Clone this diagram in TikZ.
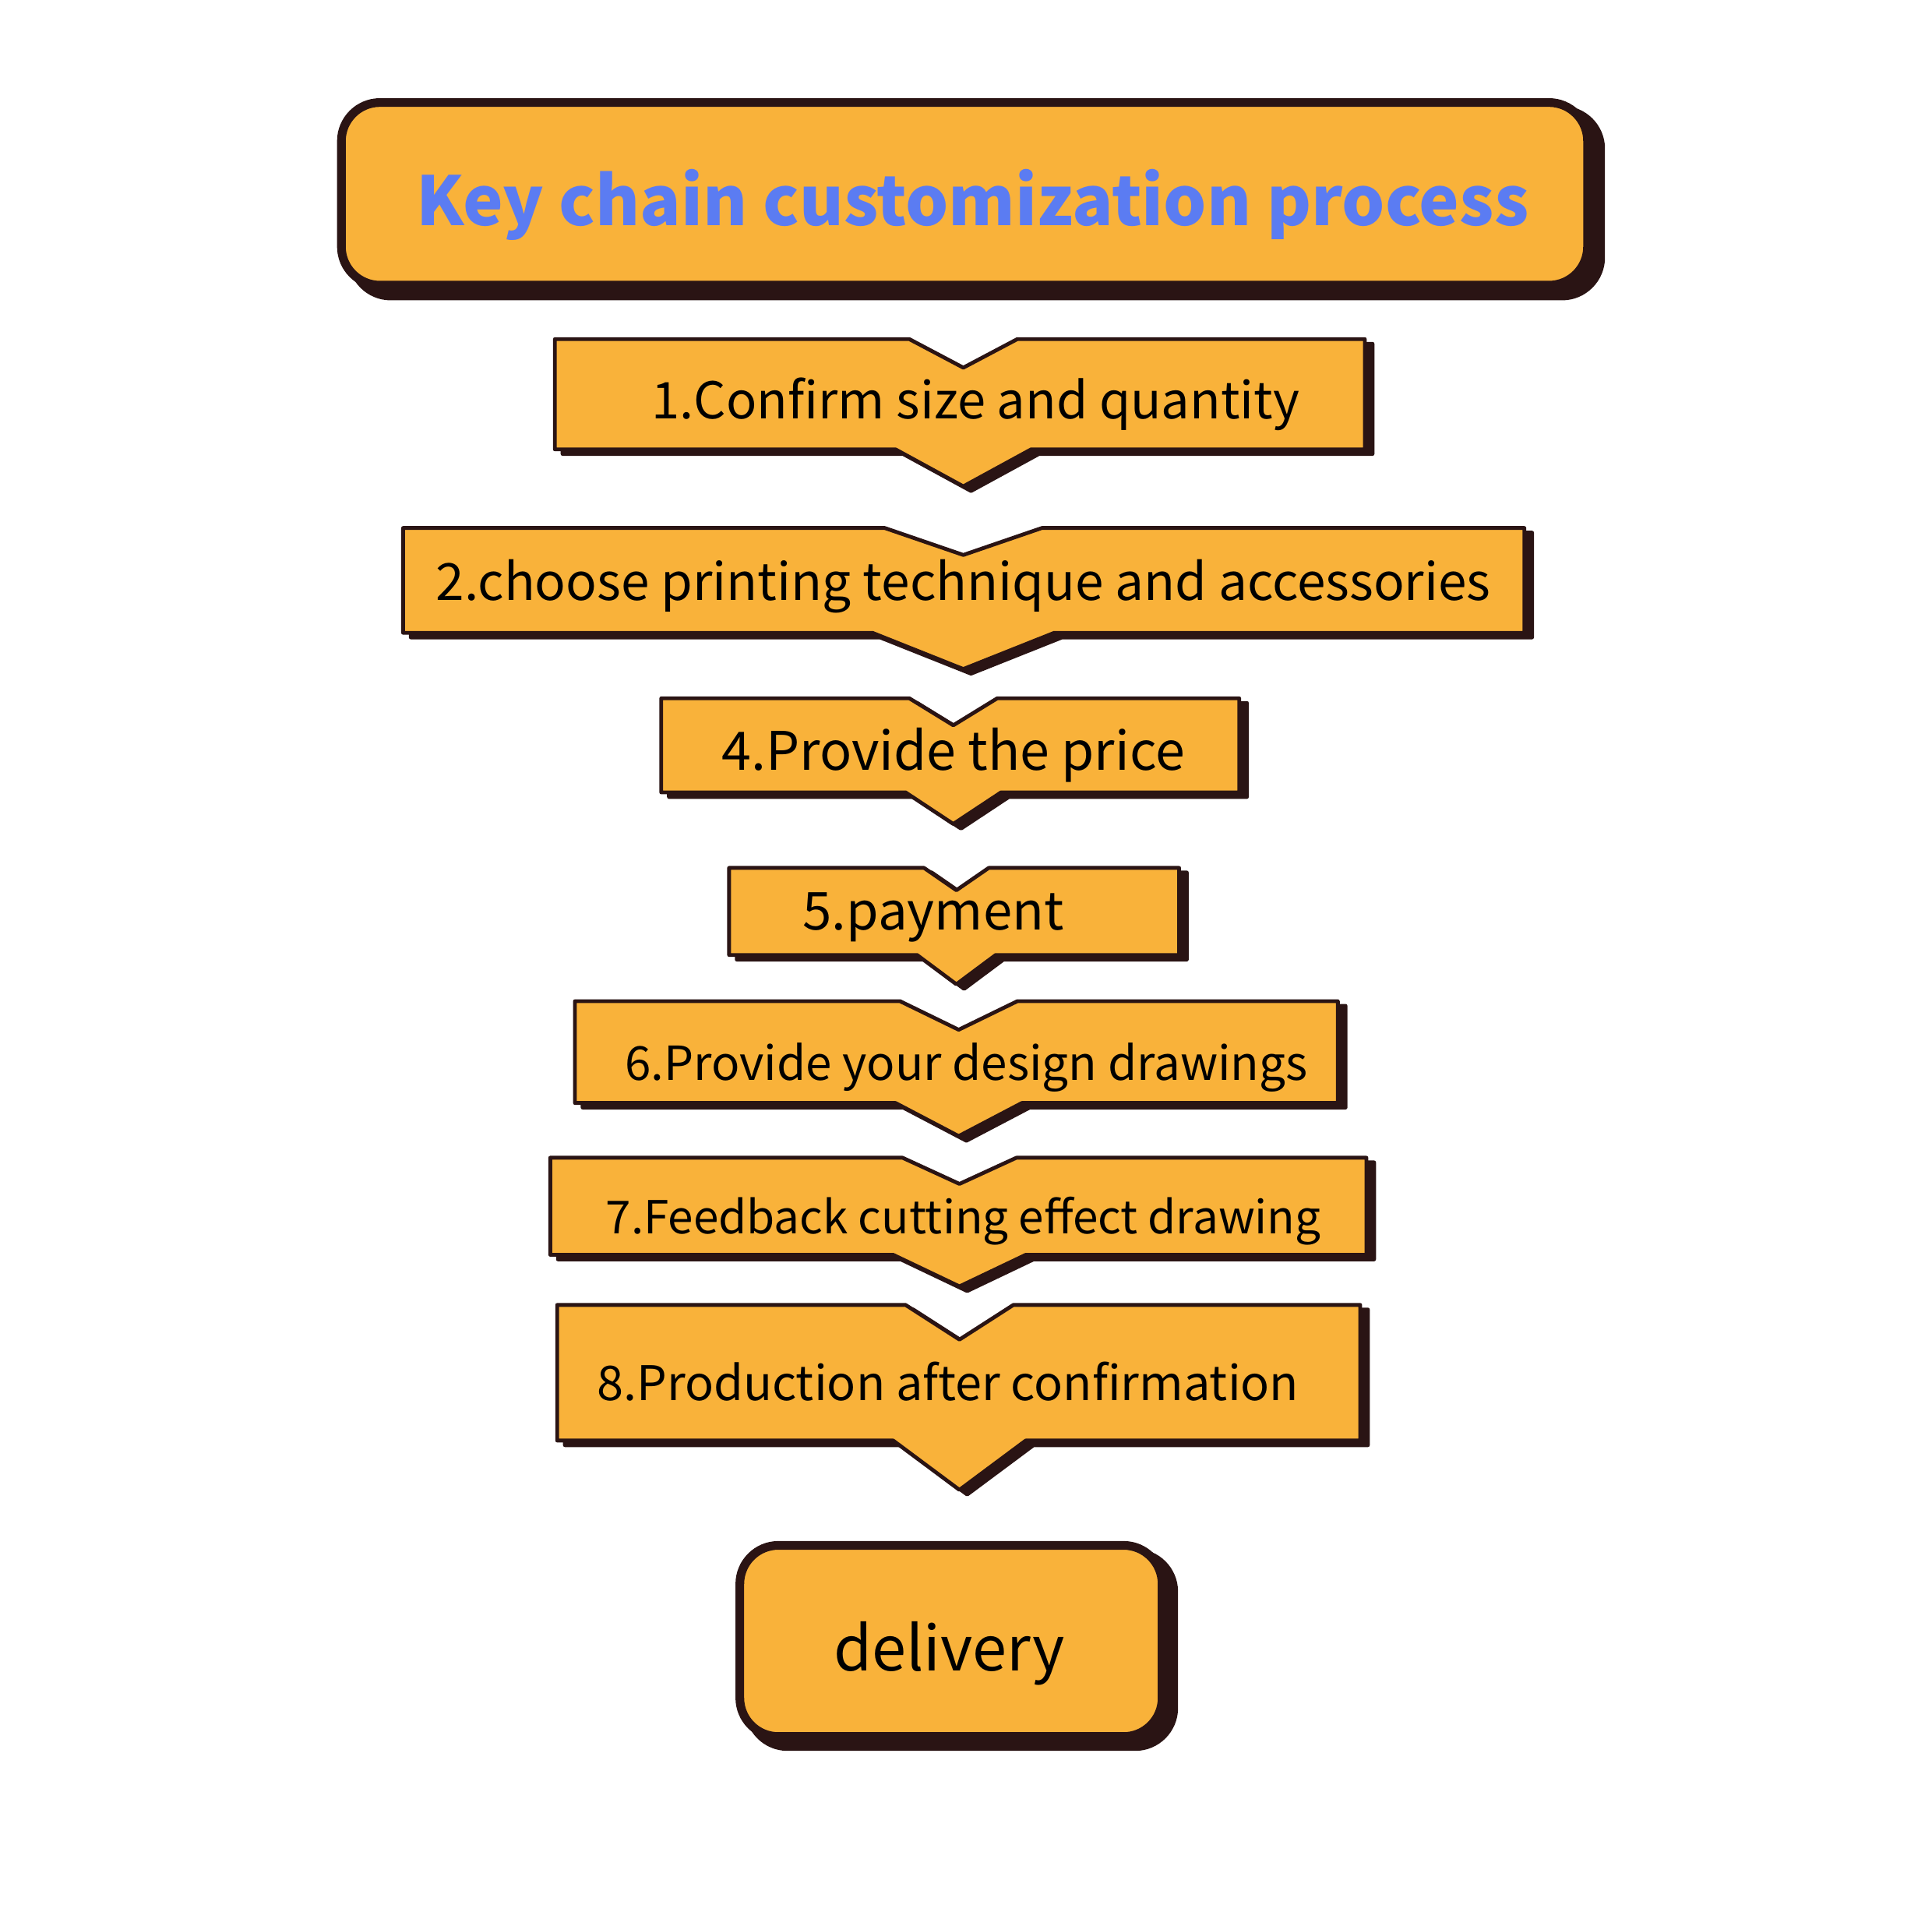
\documentclass[tikz,border=0pt]{standalone}
\usepackage{fontspec}
\setmainfont{Noto Sans CJK SC}
\usepackage{xcolor}
\usetikzlibrary{calc}
\definecolor{ink}{HTML}{2A1414}
\definecolor{orangefill}{HTML}{F9B23A}
\definecolor{titleblue}{HTML}{5B7CF2}
\tikzset{
  stepbody/.style={fill=orangefill, draw=ink, line width=1.4pt, line join=round},
  stepshade/.style={fill=ink, draw=ink, line width=1.4pt, line join=round},
  roundbody/.style={fill=orangefill, draw=ink, line width=3.2pt, rounded corners=0.5cm},
  roundshade/.style={fill=ink, draw=ink, line width=3.2pt, rounded corners=0.5cm},
  steplab/.style={text=black, inner sep=0pt},
  titlelab/.style={text=titleblue, inner sep=0pt, font=\bfseries\fontsize{25}{30}\selectfont},
  endlab/.style={text=black, inner sep=0pt, font=\fontsize{22.8}{27}\selectfont},
}
\begin{document}
\begin{tikzpicture}[x=0.01cm, y=-0.01cm]
  \useasboundingbox[fill=white] (0,0) rectangle (2507,2480);
  % title
  \draw[roundshade] (457,143) rectangle (2077,384);
  \draw[roundbody] (443,133) rectangle (2060,370);
  \node[titlelab] (title) at (1262,266) {Key chain customization process};
  % steps: name/left/right/top/bottom/centre/notch w/notch d/arrow w/arrow d/text x/text y/size/text
  \foreach \nm/\xa/\xb/\ya/\yb/\xc/\tw/\td/\bw/\bd/\tx/\ty/\fs/\txt in {
    sone/720/1771/440/583/1250/70/37/88/48/1266/524/18.7/1.Confirm size and quantity,
    stwo/523/1978/685/821/1250/102/35/118/47/1250/761/18.9/2.choose printing technique and accessories,
    sfour/858/1608/906/1028/1237/57/35/62/41/1237/980/19.6/4.Provide the price,
    sfive/946/1530/1126/1239/1241/42/29/51/38/1211/1190/19.3/5.payment,
    ssix/746/1736/1299/1431/1244/76/37/82/43/1254/1385/17.3/6.Provide your design drawings,
    sseven/714/1773/1502/1628/1245/74/34/86/41/1250/1584/16.8/7.Feedback cutting effect drawing,
    seight/723/1765/1693/1869/1245/70/45/86/64/1230/1792/17.6/8.Production after confirmation} {
    \begin{scope}[shift={(10,6)}]
      \draw[stepshade] (\xa,\ya) -- (\xc-\tw,\ya) -- (\xc,\ya+\td) -- (\xc+\tw,\ya) -- (\xb,\ya)
        -- (\xb,\yb) -- (\xc+\bw,\yb) -- (\xc,\yb+\bd) -- (\xc-\bw,\yb) -- (\xa,\yb) -- cycle;
    \end{scope}
    \draw[stepbody] (\xa,\ya) -- (\xc-\tw,\ya) -- (\xc,\ya+\td) -- (\xc+\tw,\ya) -- (\xb,\ya)
      -- (\xb,\yb) -- (\xc+\bw,\yb) -- (\xc,\yb+\bd) -- (\xc-\bw,\yb) -- (\xa,\yb) -- cycle;
    \node[steplab, font=\fontsize{\fs}{22}\selectfont] (\nm) at (\tx,\ty) {\txt};
  }
  % last step
  \draw[roundshade] (972,2015) rectangle (1523,2266);
  \draw[roundbody] (960,2005) rectangle (1508,2253);
  \node[endlab] (delivery) at (1232,2145) {delivery};
\end{tikzpicture}
\end{document}
